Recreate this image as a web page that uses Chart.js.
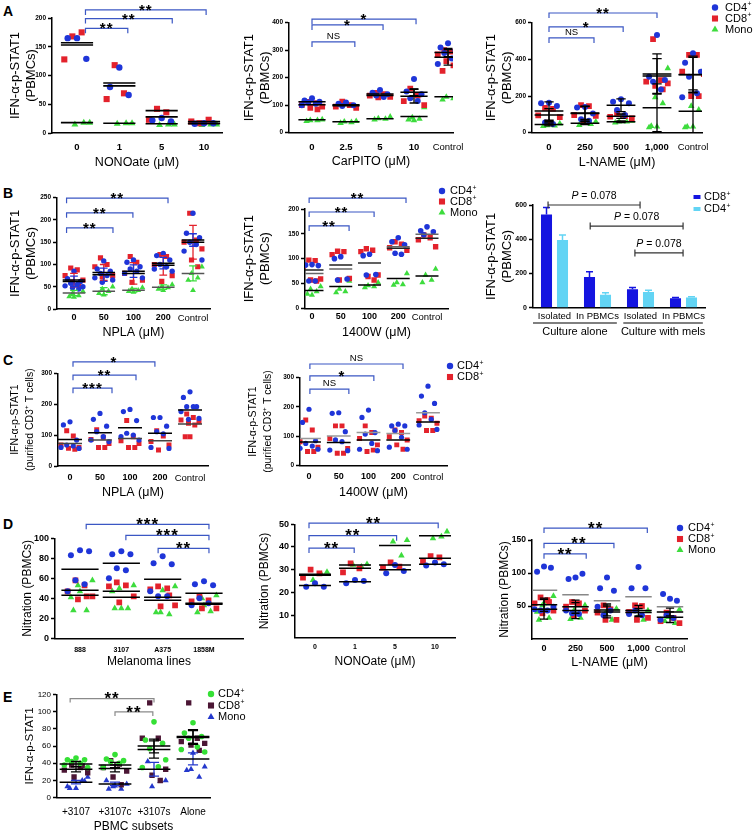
<!DOCTYPE html>
<html>
<head>
<meta charset="utf-8">
<title>IFN-α-p-STAT1 and nitration in PBMC subsets</title>
<script src="https://cdn.jsdelivr.net/npm/chart.js@4.4.1/dist/chart.umd.min.js"></script>
<style>
  html, body { margin: 0; padding: 0; background: #fff; }
  body { position: relative; width: 755px; height: 840px; overflow: hidden; }
  .tag { position: absolute; font: bold 14px "Liberation Sans", Arial, sans-serif; line-height: 14px; }
  canvas { position: absolute; }
</style>
</head>
<body>
<div class="tag" style="left:3px;top:4px">A</div>
<div class="tag" style="left:3px;top:186px">B</div>
<div class="tag" style="left:3px;top:353px">C</div>
<div class="tag" style="left:3px;top:517px">D</div>
<div class="tag" style="left:3px;top:690px">E</div>
<script>
// ---------- values ----------
// A  IFN-α-p-STAT1 (PBMCs)
const a1Cats = ['0', '1', '5', '10'];
const a1Cd4 = [[165, 165, 129], [114, 80, 66], [26, 22, 20], [17, 16, 17]];
const a1Cd8 = [[168, 175, 128], [118, 69, 59], [42, 36, 23], [17, 23, 20]];
const a1Mono = [[18, 15, 18], [17, 16, 17], [15, 14, 15], [15, 14, 15]];
const a1Cd4Mean = [153, 87, 28, 17];
const a1Cd8Mean = [157, 82, 39, 20];
const a1MonoMean = [18, 17, 16, 16];
const a1Sig = [[0, 1, '**'], [0, 2, '**'], [0, 3, '**']];

const a2Cats = ['0', '2.5', '5', '10', 'Control'];
const a2Cd4 = [[125, 117, 113, 110, 105, 100], [110, 105, 100, 97], [155, 145, 140, 135, 130], [195, 150, 140, 125, 115], [325, 310, 300, 290, 270, 250]];
const a2Cd8 = [[112, 108, 100, 95, 90, 85], [113, 100, 95, 90], [145, 140, 135, 130, 128], [160, 135, 115, 100], [300, 295, 285, 275, 260, 245, 225]];
const a2Mono = [[48, 45, 45, 42], [42, 40, 38, 35], [58, 52, 50, 48], [92, 55, 50, 48, 45], [138, 130, 125, 120]];
const a2Cd4Mean = [113, 102, 141, 147, 292];
const a2Cd8Mean = [102, 98, 135, 133, 274];
const a2MonoMean = [47, 40, 51, 59, 131];
const a2Cd4Sd = [0, 0, 0, 12, 15];
const a2Cd8Sd = [0, 0, 0, 25, 28];
const a2Sig = [[0, 1, 'NS'], [0, 2, '*'], [0, 3, '*']];

const a3Cats = ['0', '250', '500', '1,000', 'Control'];
const a3Cd4 = [[164, 160, 145, 55, 48], [140, 138, 105, 73, 65], [182, 169, 160, 124, 96], [533, 305, 287, 278, 236], [433, 382, 333, 305, 215, 193]];
const a3Cd8 = [[135, 130, 95, 85, 55], [150, 145, 96, 92, 60], [105, 91, 87, 78], [511, 287, 278, 269, 255, 236], [424, 424, 333, 320, 200, 200]];
const a3Mono = [[50, 40, 38, 36], [60, 52, 47, 42], [65, 60, 60, 55], [351, 193, 160, 36, 33, 29], [335, 145, 125, 33, 33, 29]];
const a3Cd4Mean = [118, 108, 150, 320, 316];
const a3Cd8Mean = [96, 105, 90, 309, 318];
const a3MonoMean = [45, 52, 60, 136, 117];
const a3Cd4Sd = [50, 35, 35, 110, 95];
const a3Cd8Sd = [35, 40, 12, 95, 100];
const a3MonoSd = [8, 8, 5, 130, 117];
const a3Sig = [[0, 1, 'NS'], [0, 2, '*'], [0, 3, '**']];

// B
const b1Cats = ['0', '50', '100', '200', 'Control'];
const b1Cd4 = [[85, 68, 62, 58, 55, 52, 50, 48, 45], [108, 90, 85, 80, 75, 70, 65, 60], [110, 105, 95, 90, 85, 80, 70], [125, 120, 110, 100, 95, 90, 85], [215, 170, 160, 150, 145, 130, 110]];
const b1Cd8 = [[92, 88, 75, 65, 60, 55], [115, 100, 95, 75, 72], [118, 105, 80, 65, 60], [122, 118, 100, 75, 62], [215, 155, 150, 135, 110, 95]];
const b1Mono = [[40, 35, 30, 28, 27], [50, 45, 40, 35, 32], [48, 45, 42, 40, 38], [55, 50, 48, 45, 42], [95, 80, 70, 65, 42]];
const b1Cd4Mean = [62, 77, 85, 103, 155];
const b1Cd8Mean = [65, 82, 80, 98, 150];
const b1MonoMean = [36, 40, 42, 49, 80];
const b1Cd4Sd = [12, 15, 14, 13, 14];
const b1Cd8Sd = [15, 18, 24, 22, 38];
const b1MonoSd = [6, 8, 4, 5, 17];
const b1Sig = [[0, 1, '**'], [0, 2, '**'], [0, 3, '**']];

const b2Cats = ['0', '50', '100', '200', 'Control'];
const b2Cd4 = [[88, 87, 86, 55, 55], [104, 100, 59, 57], [109, 106, 68, 67], [142, 134, 128, 111, 109], [164, 156, 154, 148]];
const b2Cd8 = [[97, 96, 85, 59, 57, 55], [115, 114, 108, 60, 57], [120, 117, 114, 67, 64, 57], [134, 129, 122, 117], [148, 142, 138, 124]];
const b2Mono = [[44, 39, 34, 29, 27], [55, 39, 34, 32], [52, 46, 44, 42], [70, 52, 48, 47], [79, 67, 57, 52]];
const b2Cd4Mean = [70, 79, 91, 124, 149];
const b2Cd8Mean = [77, 87, 91, 121, 141];
const b2MonoMean = [36, 44, 47, 60, 65];
const b2Sig = [[0, 1, '**'], [0, 2, '**'], [0, 3, '**']];

const b3Cats = ['Isolated', 'In PBMCs', 'Isolated', 'In PBMCs'];
const b3Groups = ['Culture alone', 'Culture with mels'];
const b3Cd8 = [545, 180, 108, 55];
const b3Cd8Err = [40, 30, 10, 5];
const b3Cd4 = [395, 75, 92, 60];
const b3Cd4Err = [30, 13, 10, 4];
const b3Sig = [[0, 2, 'P = 0.078'], [1, 3, 'P = 0.078'], [2, 3, 'P = 0.078']];

// C  purified CD3+ T cells
const c1Cats = ['0', '50', '100', '200', 'Control'];
const c1Cd4 = [[143, 133, 84, 68, 65, 60, 57], [170, 151, 129, 111, 95, 84, 79], [183, 176, 147, 106, 100, 95, 84], [157, 157, 129, 111, 104, 60, 57], [240, 222, 192, 192, 192, 176, 154, 151]];
const c1Cd8 = [[114, 97, 68, 60, 57, 54], [117, 93, 86, 73, 60, 60], [147, 95, 82, 73, 60, 60], [114, 97, 79, 68, 52], [168, 157, 149, 143, 138, 133, 95, 95]];
const c1Cd4Mean = [86, 108, 124, 106, 181];
const c1Cd8Mean = [73, 84, 89, 82, 136];
const c1Sig = [[0, 1, '***'], [0, 2, '**'], [0, 3, '*']];

const c2Cats = ['0', '50', '100', '200', 'Control'];
const c2Cd4 = [[192, 147, 84, 75, 66, 58, 55], [180, 178, 115, 87, 81, 52, 50], [189, 164, 112, 107, 75, 55, 50], [141, 135, 135, 119, 96, 62, 55], [271, 237, 212, 180, 157, 138, 123]];
const c2Cd8 = [[155, 121, 81, 62, 47, 47], [135, 135, 92, 58, 41, 41], [135, 112, 92, 70, 47, 52], [121, 112, 98, 87, 70, 55], [169, 161, 153, 144, 119, 119]];
const c2Cd4Mean = [92, 100, 112, 109, 180];
const c2Cd8Mean = [80, 78, 87, 87, 148];
const c2Sig = [[0, 1, 'NS'], [0, 2, '*'], [0, 3, 'NS']];

// D  nitration
const d1Cats = ['888', '3107', 'A375', '1858M'];
const d1Cd4 = [[88, 83, 87, 58, 54, 47], [87, 84, 84, 70, 68, 60], [82, 75, 74, 42, 42, 47], [57, 54, 53, 40, 35, 33]];
const d1Cd8 = [[58, 53, 47, 42, 39, 42], [56, 53, 52, 42, 36], [52, 50, 49, 33, 32, 43], [42, 38, 37, 30, 30]];
const d1Mono = [[58, 53, 28, 28, 47, 41], [53, 50, 30, 30, 30, 47], [52, 26, 24, 26, 48], [43, 40, 27, 26, 33]];
const d1Cd4Mean = [69, 75, 59, 45];
const d1Cd8Mean = [48, 47, 41, 35];
const d1MonoMean = [43, 41, 38, 34];
const d1Sig = [[0, 3, '***'], [1, 3, '***'], [2, 3, '**']];

const d2Cats = ['0', '1', '5', '10'];
const d2Cd4 = [[24, 22.5, 22.5], [25.4, 24, 25], [32, 28.4, 29.4], [33.2, 31.8, 32.4]];
const d2Cd8 = [[30, 28.4, 26.5], [32.8, 30.6, 28.8], [33.2, 31.3, 30.9], [36, 35.4, 33.8]];
const d2Mono = [[29, 25.4, 28], [32.4, 32.1, 31.3], [43, 42.4, 36.2], [46.8, 43.8, 44.6]];
const d2Cd4Mean = [23, 24.7, 30, 32.4];
const d2Cd8Mean = [28, 30.6, 32, 35];
const d2MonoMean = [27.5, 32, 40.6, 45];
const d2Sig = [[0, 1, '**'], [0, 2, '**'], [0, 3, '**']];

const d3Cats = ['0', '250', '500', '1,000', 'Control'];
const d3Cd4 = [[110, 102, 108, 43, 43, 45, 49], [93, 91, 99, 39, 38, 43], [93, 77, 73, 36, 43, 49], [109, 77, 77, 43, 36, 38], [61, 68, 58, 36, 32, 29]];
const d3Cd8 = [[63, 59, 54, 43, 39, 56], [56, 54, 49, 43, 36], [51, 45, 40, 29, 29], [51, 50, 41, 32, 29], [40, 32, 27, 24]];
const d3Mono = [[65, 51, 32, 29, 54, 41], [51, 43, 32, 30], [46, 39, 29], [43, 32, 29], [45, 33, 24, 27]];
const d3Cd4Mean = [74, 67, 58, 64, 49];
const d3Cd8Mean = [52, 49, 44, 43, 41];
const d3MonoMean = [45, 43, 41, 40, 33];
const d3Cd8Sd = [10, 10, 9, 8, 6];
const d3MonoSd = [15, 12, 9, 6, 8];
const d3Sig = [[0, 1, '**'], [0, 2, '**'], [0, 3, '**']];

// E  PBMC subsets
const eCats = ['+3107', '+3107c', '+3107s', 'Alone'];
const eCd4 = [[46, 44, 44, 42, 40, 38, 35], [50, 45, 43, 42, 40, 35], [88, 67, 63, 57, 36, 35, 44], [87, 75, 71, 69, 59, 56, 53]];
const eCd8 = [[38, 35, 32, 29, 24, 37], [43, 39, 35, 31, 24, 15], [110, 69, 69, 33, 26, 20], [110, 69, 65, 63, 61, 55]];
const eMono = [[24, 21, 20, 11, 11, 13, 19], [16, 13, 10, 10, 14, 20], [20, 13, 19, 42], [36, 33, 24, 32, 52]];
const eCd4Mean = [39, 38, 60, 70];
const eCd8Mean = [33, 34, 56, 71];
const eMonoMean = [18, 16, 33, 45];
const eCd4Sd = [3, 3, 8, 8];
const eCd8Sd = [3, 4, 10, 8];
const eMonoSd = [2, 2, 8, 7];
const eSig = [[0, 2, '**'], [1, 2, '**']];

// ---------- styling ----------
const FONT = '"Liberation Sans", Arial, sans-serif';
const BLUE = '#1f35d8', RED = '#e3222c', GREEN = '#3ddc3d';
const BRACKET = '#3b57c4';
const JIT = [0, -0.22, 0.22, -0.11, 0.11, -0.3, 0.3, -0.05, 0.16, -0.16];
const SIZE = { circle: 1, rect: 1.35, triangle: 1.25 };
const KIND = {
  cd4: { name: 'CD4', sup: '+', shape: 'circle', color: BLUE },
  cd8: { name: 'CD8', sup: '+', shape: 'rect', color: RED },
  mono: { name: 'Mono', sup: '', shape: 'triangle', color: GREEN }
};
function ser(kind, values, means, opts) {
  return Object.assign({ meanColor: '#000', errColor: '#000' }, KIND[kind], { values, means }, opts || {});
}

Chart.defaults.font.family = FONT;
Chart.defaults.color = '#000';

function makeCanvas(x, y, w, h) {
  const c = document.createElement('canvas');
  c.width = w; c.height = h;
  c.style.left = x + 'px'; c.style.top = y + 'px';
  c.style.width = w + 'px'; c.style.height = h + 'px';
  document.body.appendChild(c);
  return c;
}

function marker(ctx, shape, x, y, r, color) {
  ctx.fillStyle = color;
  ctx.beginPath();
  if (shape === 'circle') ctx.arc(x, y, r, 0, Math.PI * 2);
  else if (shape === 'rect') ctx.rect(x - r * 0.95, y - r * 0.95, r * 1.9, r * 1.9);
  else if (shape === 'triangle') {
    ctx.moveTo(x, y - r * 1.25); ctx.lineTo(x + r * 1.08, y + r * 0.62); ctx.lineTo(x - r * 1.08, y + r * 0.62); ctx.closePath();
  } else ctx.rect(x - 3.5, y - 2, 7, 4);
  ctx.fill();
}

function supText(ctx, text, sup, x, y, size) {
  ctx.fillStyle = '#000'; ctx.textAlign = 'left'; ctx.textBaseline = 'middle';
  ctx.font = size + 'px ' + FONT;
  ctx.fillText(text, x, y);
  if (sup) {
    const w = ctx.measureText(text).width;
    ctx.font = (size * 0.62) + 'px ' + FONT;
    ctx.fillText(sup, x + w + 0.5, y - size * 0.3);
  }
}

function drawLegend(ctx, lg, series, cx, cy) {
  series.forEach((s, k) => {
    const y = lg.ys[k] - cy;
    marker(ctx, lg.shape || s.shape, lg.x - cx, y, lg.r || 3.2, s.color);
    supText(ctx, s.name, s.sup, lg.textX - cx, y, lg.size || 11);
  });
}

function sigText(ctx, text, x, y, starSize) {
  ctx.fillStyle = '#000'; ctx.textAlign = 'center'; ctx.textBaseline = 'alphabetic';
  if (text.indexOf('*') >= 0) {
    ctx.font = 'bold ' + starSize + 'px ' + FONT;
    ctx.letterSpacing = '1px';
    ctx.fillText(text, x, y + starSize * 0.34);
    ctx.letterSpacing = '0px';
  } else if (text.indexOf('P') === 0) {
    const rest = text.slice(1);
    ctx.font = 'italic 10.5px ' + FONT;
    const w1 = ctx.measureText('P').width;
    ctx.font = '10.5px ' + FONT;
    const w2 = ctx.measureText(rest).width;
    const x0 = x - (w1 + w2) / 2;
    ctx.textAlign = 'left';
    ctx.font = 'italic 10.5px ' + FONT;
    ctx.fillText('P', x0, y - 4);
    ctx.font = '10.5px ' + FONT;
    ctx.fillText(rest, x0 + w1, y - 4);
  } else {
    ctx.font = '9.5px ' + FONT;
    ctx.fillText(text, x, y - 3);
  }
}

function scatterPanel(p) {
  const [cx, cy, cw] = p.box;
  const [l, t, r, b] = p.area;
  const ch = Math.round(p.xTitleY + p.xTitleSize * 0.6 - cy);
  const canvas = makeCanvas(cx, cy, cw, ch);
  const n = p.cats.length;
  const sp = (p.cN - p.c0) / (n - 1);
  const hw = p.hw || 0.4, cap = p.cap || 0.13;
  const datasets = [];

  p.series.forEach((s, si) => {
    const pts = [];
    s.values.forEach((arr, i) => arr.forEach((v, k) => {
      pts.push({ x: i + JIT[(k + si * 3) % JIT.length] * (p.spread || 1), y: v });
    }));
    datasets.push({
      type: 'scatter', data: pts, pointStyle: s.shape,
      pointRadius: p.radius * SIZE[s.shape], backgroundColor: s.color, borderColor: s.color,
      borderWidth: 0, order: 3
    });
  });

  p.series.forEach(s => {
    if (s.means) {
      const d = [];
      s.means.forEach((m, i) => d.push({ x: i - hw, y: m }, { x: i + hw, y: m }, { x: i, y: null }));
      datasets.push({ type: 'line', data: d, borderColor: s.meanColor, borderWidth: p.meanWidth || 1.5,
        pointRadius: 0, spanGaps: false, order: 1 });
    }
    if (s.sds) {
      const d = [];
      s.sds.forEach((sd, i) => {
        if (!sd) return;
        const m = s.means[i];
        d.push({ x: i, y: m - sd }, { x: i, y: m + sd }, { x: i, y: null },
          { x: i - cap, y: m + sd }, { x: i + cap, y: m + sd }, { x: i, y: null },
          { x: i - cap, y: m - sd }, { x: i + cap, y: m - sd }, { x: i, y: null });
      });
      datasets.push({ type: 'line', data: d, borderColor: s.errColor, borderWidth: p.errWidth || 1.3,
        pointRadius: 0, spanGaps: false, order: 2 });
    }
  });

  const extras = {
    id: 'extras',
    afterDraw(chart) {
      const ctx = chart.ctx, xs = chart.scales.x, ys = chart.scales.y;
      ctx.save();
      (p.sig || []).forEach((sg, k) => {
        const e = p.brEnds[k];
        const x0 = xs.getPixelForValue(sg[0] + e[0]);
        const x1 = xs.getPixelForValue(sg[1] + e[1]);
        const y = ys.getPixelForValue(p.brLevels[k]);
        const drop = p.brDrop || 5;
        ctx.strokeStyle = p.brColor || BRACKET; ctx.lineWidth = 1.2;
        ctx.beginPath();
        ctx.moveTo(x0, y + drop); ctx.lineTo(x0, y); ctx.lineTo(x1, y); ctx.lineTo(x1, y + drop);
        ctx.stroke();
        sigText(ctx, sg[2], (x0 + x1) / 2, y, p.starSize || 15);
      });
      if (p.legend) drawLegend(ctx, p.legend, p.series, cx, cy);
      ctx.restore();
    }
  };

  const xTickLH = p.xTickSize * 1.2;
  const yLH = p.yTitleLH || 1.2;
  new Chart(canvas, {
    type: 'scatter',
    data: { datasets },
    options: {
      responsive: false, animation: false, events: [],
      layout: { padding: { left: 0, top: t - cy, right: cx + cw - r, bottom: 0 } },
      plugins: { legend: { display: false }, tooltip: { enabled: false } },
      scales: {
        x: {
          type: 'linear', min: (l - p.c0) / sp, max: (r - p.c0) / sp,
          afterBuildTicks: ax => { ax.ticks = p.cats.map((c, i) => ({ value: i })); },
          afterFit: ax => { ax.height = cy + ch - b; },
          grid: { display: false, drawTicks: false },
          border: { display: p.xBorder !== false, color: '#000', width: 1.5 },
          ticks: {
            autoSkip: false, maxRotation: 0, color: '#000',
            padding: p.xTickY - b - xTickLH / 2,
            callback: v => p.cats[v],
            font: c => {
              const lab = c.tick ? p.cats[c.tick.value] : '';
              const word = /[a-z]/.test(lab || '');
              return { family: FONT, size: word ? (p.wordSize || 9.5) : p.xTickSize,
                weight: (word || p.xTickNormal) ? 'normal' : 'bold' };
            }
          },
          title: { display: true, text: p.xTitle, color: '#000', font: { family: FONT, size: p.xTitleSize }, padding: 0 }
        },
        y: {
          min: 0, max: p.ymax,
          afterFit: ax => { ax.width = l - cx; },
          afterBuildTicks: ax => { if (p.hideZero) ax.ticks = ax.ticks.filter(tk => tk.value !== 0); },
          ticks: { stepSize: p.ystep, color: '#000', padding: 2,
            font: { family: FONT, size: p.yTickSize, weight: p.yTickNormal ? 'normal' : 'bold' } },
          grid: { drawOnChartArea: false, drawTicks: true, tickLength: 4, tickWidth: 1.5, tickColor: '#000' },
          border: { color: '#000', width: 1.5 },
          title: {
            display: true, text: p.yTitle, color: '#000',
            font: { family: FONT, size: p.yTitleSize, lineHeight: yLH },
            padding: { top: p.yTitleX - cx - p.yTitleSize * yLH / 2, bottom: 0 }
          }
        }
      }
    },
    plugins: [extras]
  });
}

function barPanel(p) {
  const [cx, cy, cw] = p.box;
  const [l, t, r, b] = p.area;
  const ch = Math.round(p.groupLabelY + 8 - cy);
  const canvas = makeCanvas(cx, cy, cw, ch);
  const xTickLH = p.xTickSize * 1.2;

  const extras = {
    id: 'extras',
    afterDatasetsDraw(chart) {
      const ctx = chart.ctx, ys = chart.scales.y;
      ctx.save();
      p.series.forEach((s, di) => {
        chart.getDatasetMeta(di).data.forEach((bar, i) => {
          const top = ys.getPixelForValue(s.values[i] + s.err[i]);
          ctx.strokeStyle = s.color; ctx.lineWidth = 1.5;
          ctx.beginPath();
          ctx.moveTo(bar.x, bar.y); ctx.lineTo(bar.x, top);
          ctx.moveTo(bar.x - 3.5, top); ctx.lineTo(bar.x + 3.5, top);
          ctx.stroke();
        });
      });
      ctx.restore();
    },
    afterDraw(chart) {
      const ctx = chart.ctx, xs = chart.scales.x, ys = chart.scales.y;
      ctx.save();
      // group underlines and labels
      p.groups.forEach((g, gi) => {
        const x0 = xs.getPixelForValue(gi * 2 - 0.5 + (gi ? 0.1 : 0));
        const x1 = xs.getPixelForValue(gi * 2 + 1.45);
        ctx.strokeStyle = '#000'; ctx.lineWidth = 1.2;
        ctx.beginPath(); ctx.moveTo(x0, p.groupLineY - cy); ctx.lineTo(x1, p.groupLineY - cy); ctx.stroke();
        ctx.fillStyle = '#000'; ctx.font = '11px ' + FONT; ctx.textAlign = 'center'; ctx.textBaseline = 'middle';
        ctx.fillText(g, (x0 + x1) / 2, p.groupLabelY - cy);
      });
      // P-value brackets
      p.sig.forEach((sg, k) => {
        const e = p.brEnds[k];
        const x0 = xs.getPixelForValue(sg[0] + e[0]);
        const x1 = xs.getPixelForValue(sg[1] + e[1]);
        const y = ys.getPixelForValue(p.brLevels[k]);
        ctx.strokeStyle = '#333'; ctx.lineWidth = 1.2;
        ctx.beginPath();
        ctx.moveTo(x0, y - 3.5); ctx.lineTo(x0, y + 3.5);
        ctx.moveTo(x0, y); ctx.lineTo(x1, y);
        ctx.moveTo(x1, y - 3.5); ctx.lineTo(x1, y + 3.5);
        ctx.stroke();
        sigText(ctx, sg[2], (x0 + x1) / 2, y - 2, 15);
      });
      p.series.forEach((s, k) => {
        const y = p.legend.ys[k] - cy;
        marker(ctx, 'bar', p.legend.x - cx, y, 3, s.color);
        supText(ctx, s.name, s.sup, p.legend.textX - cx, y, 11);
      });
      ctx.restore();
    }
  };

  new Chart(canvas, {
    type: 'bar',
    data: {
      labels: p.cats,
      datasets: p.series.map(s => ({ label: s.name, data: s.values, backgroundColor: s.color,
        barPercentage: 0.69, categoryPercentage: 0.744 }))
    },
    options: {
      responsive: false, animation: false, events: [],
      layout: { padding: { left: 0, top: t - cy, right: cx + cw - r, bottom: 0 } },
      plugins: { legend: { display: false }, tooltip: { enabled: false } },
      scales: {
        x: {
          offset: true,
          afterFit: ax => { ax.height = cy + ch - b; },
          grid: { display: false, drawTicks: false },
          border: { color: '#000', width: 1.5 },
          ticks: { color: '#000', autoSkip: false, maxRotation: 0, padding: p.xTickY - b - xTickLH / 2,
            font: { family: FONT, size: p.xTickSize } }
        },
        y: {
          min: 0, max: p.ymax,
          afterFit: ax => { ax.width = l - cx; },
          ticks: { stepSize: p.ystep, color: '#000', padding: 2, font: { family: FONT, size: p.yTickSize, weight: 'bold' } },
          grid: { drawOnChartArea: false, drawTicks: true, tickLength: 4, tickWidth: 1.5, tickColor: '#000' },
          border: { color: '#000', width: 1.5 },
          title: {
            display: true, text: p.yTitle, color: '#000',
            font: { family: FONT, size: 13, lineHeight: 1.23 },
            padding: { top: p.yTitleX - cx - 13 * 1.23 / 2, bottom: 0 }
          }
        }
      }
    },
    plugins: [extras]
  });
}

// ---------- panel layout ----------
const ifnTitle = ['IFN-α-p-STAT1', '(PBMCs)'];
const cd3Title = ['IFN-α-p-STAT1', '(purified CD3⁺ T cells)'];

scatterPanel({
  box: [0, 0, 250], area: [52, 18, 222, 133], c0: 77, cN: 204,
  cats: a1Cats, ymax: 200, ystep: 50,
  yTitle: ifnTitle, yTitleSize: 13, yTitleLH: 1.23, yTitleX: 15,
  xTitle: 'NONOate (μM)', xTitleSize: 12.5, xTitleY: 162, xTickY: 147, xTickSize: 9.5, yTickSize: 6.5,
  series: [ser('cd4', a1Cd4, a1Cd4Mean), ser('cd8', a1Cd8, a1Cd8Mean), ser('mono', a1Mono, a1MonoMean)],
  radius: 3.2, hw: 0.38, meanWidth: 1.6,
  sig: a1Sig, brLevels: [182, 199, 214], brEnds: [[0.2, 0.2], [0.2, 0.25], [0.2, 0.05]]
});

scatterPanel({
  box: [236, 0, 240], area: [289, 22.7, 453, 132.7], c0: 312, cN: 448,
  cats: a2Cats, ymax: 400, ystep: 100,
  yTitle: ifnTitle, yTitleSize: 13, yTitleLH: 1.23, yTitleX: 249,
  xTitle: 'CarPITO (μM)', xTitleSize: 12.5, xTitleY: 161, xTickY: 147, xTickSize: 9.5, yTickSize: 6.5,
  series: [ser('cd4', a2Cd4, a2Cd4Mean, { sds: a2Cd4Sd }), ser('cd8', a2Cd8, a2Cd8Mean, { sds: a2Cd8Sd }), ser('mono', a2Mono, a2MonoMean)],
  radius: 3, hw: 0.4,
  sig: a2Sig, brLevels: [330, 392, 413], brEnds: [[0, 0.26], [0, 0.09], [0, 0.06]]
});

scatterPanel({
  box: [483, 0, 272], area: [532, 22.7, 702, 132.7], c0: 549, cN: 693,
  cats: a3Cats, ymax: 600, ystep: 200,
  yTitle: ifnTitle, yTitleSize: 13, yTitleLH: 1.23, yTitleX: 491,
  xTitle: 'L-NAME (μM)', xTitleSize: 12.5, xTitleY: 162, xTickY: 147, xTickSize: 9.5, yTickSize: 6.5,
  series: [ser('cd4', a3Cd4, a3Cd4Mean, { sds: a3Cd4Sd }), ser('cd8', a3Cd8, a3Cd8Mean, { sds: a3Cd8Sd }),
    ser('mono', a3Mono, a3MonoMean, { sds: a3MonoSd })],
  radius: 3, hw: 0.4,
  sig: a3Sig, brLevels: [517, 577, 653], brEnds: [[0, 0.25], [0, 0.06], [0, 0]],
  legend: { x: 715, ys: [7.5, 18.5, 29.5], textX: 725, size: 11 }
});

scatterPanel({
  box: [0, 185, 250], area: [57, 197.7, 210, 309], c0: 74, cN: 193,
  cats: b1Cats, ymax: 250, ystep: 50,
  yTitle: ifnTitle, yTitleSize: 13, yTitleLH: 1.23, yTitleX: 15,
  xTitle: 'NPLA (μM)', xTitleSize: 12.5, xTitleY: 332, xTickY: 318, xTickSize: 9, yTickSize: 6.5,
  series: [ser('cd4', b1Cd4, b1Cd4Mean, { sds: b1Cd4Sd, errColor: BLUE }),
    ser('cd8', b1Cd8, b1Cd8Mean, { sds: b1Cd8Sd, errColor: RED }),
    ser('mono', b1Mono, b1MonoMean, { sds: b1MonoSd, errColor: GREEN, meanColor: '#555' })],
  radius: 2.7, hw: 0.38,
  sig: b1Sig, brLevels: [182, 216, 249], brEnds: [[-0.25, 0.31], [-0.25, -0.02], [-0.25, 0.16]]
});

scatterPanel({
  box: [236, 185, 250], area: [305, 209, 448, 308.3], c0: 312, cN: 427,
  cats: b2Cats, ymax: 200, ystep: 50,
  yTitle: ifnTitle, yTitleSize: 13, yTitleLH: 1.23, yTitleX: 249,
  xTitle: '1400W (μM)', xTitleSize: 12.5, xTitleY: 332, xTickY: 317, xTickSize: 9, yTickSize: 6.5,
  series: [ser('cd4', b2Cd4, b2Cd4Mean, { meanColor: '#666' }), ser('cd8', b2Cd8, b2Cd8Mean, { meanColor: '#222' }),
    ser('mono', b2Mono, b2MonoMean)],
  radius: 2.8, hw: 0.4,
  sig: b2Sig, brLevels: [166, 194, 222], brEnds: [[-0.1, 0.29], [-0.1, 0.16], [-0.1, 0.27]],
  legend: { x: 442, ys: [191, 201.5, 212.5], textX: 450, size: 11 }
});

barPanel({
  box: [483, 185, 272], area: [533, 205, 705, 307.7],
  cats: b3Cats, groups: b3Groups, ymax: 600, ystep: 200,
  yTitle: ifnTitle, yTitleX: 491, xTickY: 316, xTickSize: 9.5, yTickSize: 7,
  groupLineY: 323, groupLabelY: 332,
  series: [
    { name: 'CD8', sup: '+', color: '#1414e0', values: b3Cd8, err: b3Cd8Err },
    { name: 'CD4', sup: '+', color: '#62d4f4', values: b3Cd4, err: b3Cd4Err }
  ],
  sig: b3Sig, brLevels: [600, 477, 320], brEnds: [[-0.15, -0.01], [-0.17, -0.01], [-0.13, -0.01]],
  legend: { x: 697, ys: [197, 209], textX: 704 }
});

scatterPanel({
  box: [0, 350, 250], area: [58, 373.3, 208, 466], c0: 70, cN: 190,
  cats: c1Cats, ymax: 300, ystep: 100,
  yTitle: cd3Title, yTitleSize: 10.5, yTitleLH: 1.43, yTitleX: 15,
  xTitle: 'NPLA (μM)', xTitleSize: 12.5, xTitleY: 492, xTickY: 478, xTickSize: 9, yTickSize: 6.5,
  series: [ser('cd4', c1Cd4, c1Cd4Mean), ser('cd8', c1Cd8, c1Cd8Mean, { meanColor: '#444' })],
  radius: 2.6, hw: 0.4,
  sig: c1Sig, brLevels: [252, 294, 337], brEnds: [[0.1, 0.4], [0.1, 0.2], [0.1, -0.17]]
});

scatterPanel({
  box: [236, 350, 250], area: [300, 377.7, 447, 465.3], c0: 309, cN: 428,
  cats: c2Cats, ymax: 300, ystep: 100,
  yTitle: cd3Title, yTitleSize: 10.5, yTitleLH: 1.43, yTitleX: 253,
  xTitle: '1400W (μM)', xTitleSize: 12.5, xTitleY: 492, xTickY: 477, xTickSize: 9, yTickSize: 6.5,
  series: [ser('cd4', c2Cd4, c2Cd4Mean, { meanColor: '#999' }), ser('cd8', c2Cd8, c2Cd8Mean)],
  radius: 2.6, hw: 0.4,
  sig: c2Sig, brLevels: [261, 306, 347], brEnds: [[0.03, 0.34], [0.03, 0.18], [0.03, 0.16]],
  legend: { x: 450, ys: [366, 377], textX: 457, size: 11 }
});

scatterPanel({
  box: [0, 505, 250], area: [55, 538.3, 243, 638.3], c0: 80, cN: 204,
  cats: d1Cats, ymax: 100, ystep: 20,
  yTitle: 'Nitration (PBMCs)', yTitleSize: 12, yTitleX: 28,
  xTitle: 'Melanoma lines', xTitleSize: 12, xTitleY: 662, xTickY: 650, xTickSize: 7, yTickSize: 9,
  series: [ser('cd4', d1Cd4, d1Cd4Mean), ser('cd8', d1Cd8, d1Cd8Mean), ser('mono', d1Mono, d1MonoMean)],
  radius: 3, hw: 0.45,
  sig: d1Sig, brLevels: [114, 103, 90], brEnds: [[0.15, 0.12], [0.11, 0.12], [-0.11, 0.12]], starSize: 17
});

scatterPanel({
  box: [236, 505, 250], area: [295, 524.3, 455, 637.7], c0: 315, cN: 435,
  cats: d2Cats, ymax: 50, ystep: 10, hideZero: true,
  yTitle: 'Nitration (PBMCs)', yTitleSize: 12, yTitleX: 265,
  xTitle: 'NONOate (μM)', xTitleSize: 12, xTitleY: 662, xTickY: 647, xTickSize: 7, yTickSize: 9,
  series: [ser('cd4', d2Cd4, d2Cd4Mean), ser('cd8', d2Cd8, d2Cd8Mean), ser('mono', d2Mono, d2MonoMean)],
  radius: 3, hw: 0.4,
  sig: d2Sig, brLevels: [39.5, 45, 50.5], brEnds: [[-0.15, -0.02], [-0.15, 0.04], [-0.15, 0.08]], starSize: 17
});

scatterPanel({
  box: [483, 505, 272], area: [532, 540, 687, 639], c0: 544, cN: 670,
  cats: d3Cats, ymax: 150, ystep: 50, hideZero: true,
  yTitle: 'Nitration (PBMCs)', yTitleSize: 12, yTitleX: 505,
  xTitle: 'L-NAME (μM)', xTitleSize: 12.5, xTitleY: 662, xTickY: 649, xTickSize: 9, yTickSize: 8.5,
  series: [ser('cd4', d3Cd4, d3Cd4Mean, { meanColor: '#888' }),
    ser('cd8', d3Cd8, d3Cd8Mean, { sds: d3Cd8Sd }), ser('mono', d3Mono, d3MonoMean, { sds: d3MonoSd })],
  radius: 3, hw: 0.42,
  sig: d3Sig, brLevels: [129, 145, 168], brEnds: [[0, 0.34], [0, 0.22], [0, 0.28]], starSize: 17,
  legend: { x: 680, ys: [528, 539, 550], textX: 688, size: 11 }
});

scatterPanel({
  box: [0, 675, 250], area: [57, 694.3, 210, 797.7], c0: 76, cN: 193,
  cats: eCats, ymax: 120, ystep: 20,
  yTitle: 'IFN-α-p-STAT1', yTitleSize: 11.5, yTitleX: 30,
  xTitle: 'PBMC subsets', xTitleSize: 12, xTitleY: 827, xTickY: 812, xTickSize: 10, xTickNormal: true, wordSize: 10,
  yTickSize: 8, yTickNormal: true,
  series: [ser('cd4', eCd4, eCd4Mean, { color: '#35e035', sds: eCd4Sd }),
    ser('cd8', eCd8, eCd8Mean, { color: '#4b1634', sds: eCd8Sd }),
    ser('mono', eMono, eMonoMean, { color: '#2438cc', sds: eMonoSd, errColor: '#2438cc' })],
  radius: 2.8, hw: 0.42,
  sig: eSig, brLevels: [115, 99.5], brEnds: [[-0.15, 0], [0, -0.03]], brColor: '#8a8a8a', brDrop: 4, starSize: 17,
  legend: { x: 211, ys: [694, 705.5, 717], textX: 218, size: 11 }
});
</script>
</body>
</html>
